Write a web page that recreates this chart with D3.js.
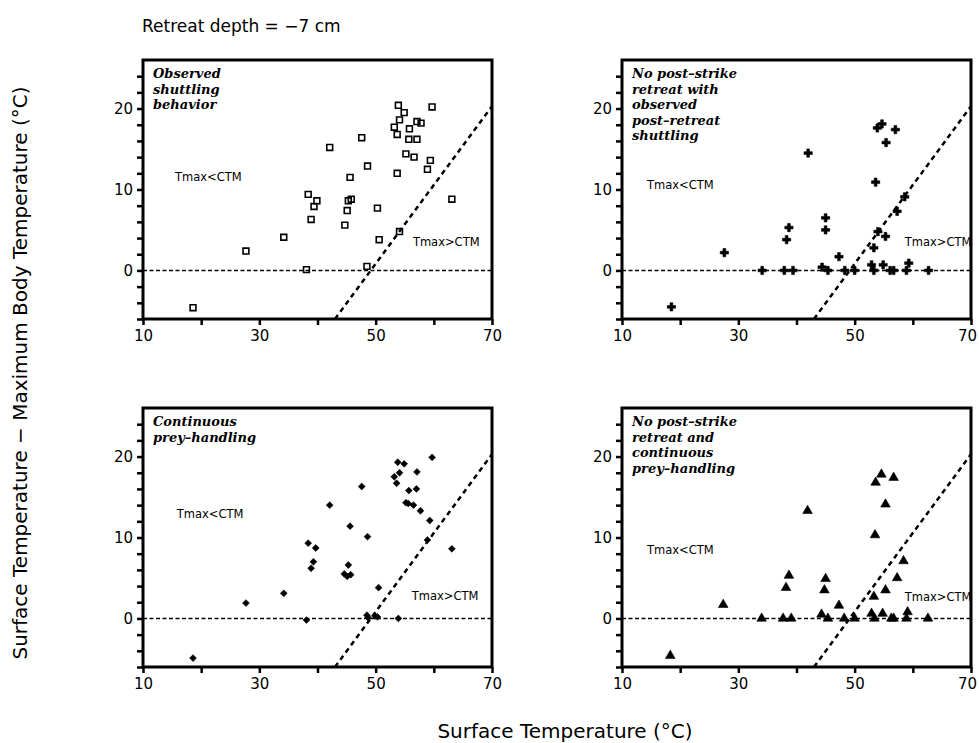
<!DOCTYPE html>
<html>
<head>
<meta charset="utf-8">
<script src="https://cdn.jsdelivr.net/npm/d3@7"></script>
<style>
  body { margin: 0; background: #fff; }
  text { font-family: "DejaVu Sans", sans-serif; fill: #000; }
  .note { font-family: "DejaVu Serif", serif; font-weight: bold; font-style: italic; font-size: 13px; }
  .axis path, .axis line { stroke: #000; }
  .axis text { font-size: 15px; }
</style>
</head>
<body>
<div id="chart"></div>
<script>
// values: [surface temp, surface temp - Tmax]
const observedShuttling = [
  [53.9, 20.4], [59.7, 20.2], [54.9, 19.5], [54.1, 18.6], [57.1, 18.4], [57.8, 18.2],
  [53.2, 17.7], [55.8, 17.5], [53.7, 16.8], [47.6, 16.4], [55.7, 16.2], [57.1, 16.2],
  [42.1, 15.2], [55.2, 14.4], [56.6, 14.0], [59.4, 13.6], [48.6, 12.9], [58.9, 12.5],
  [53.7, 12.0], [45.6, 11.5], [38.4, 9.4], [39.9, 8.6], [45.3, 8.6], [45.8, 8.8],
  [39.4, 7.9], [63.1, 8.8], [50.3, 7.7], [45.1, 7.4], [38.9, 6.3], [44.7, 5.6],
  [34.2, 4.1], [50.6, 3.8], [54.1, 4.8], [27.7, 2.4], [38.1, 0.1], [48.5, 0.5],
  [18.6, -4.6]
];

const noRetreatShuttling = [
  [53.9, 17.6], [54.7, 18.1], [57.0, 17.4], [55.4, 15.8], [42.0, 14.5], [53.6, 10.9],
  [58.6, 9.1], [57.3, 7.3], [45.0, 6.5], [38.7, 5.3], [45.0, 5.0], [38.3, 3.8],
  [54.0, 4.8], [55.3, 4.2], [53.3, 2.8], [47.3, 1.7], [27.6, 2.2], [59.3, 0.9],
  [52.9, 0.7], [54.9, 0.7], [44.4, 0.4], [34.1, 0], [37.9, 0], [39.4, 0],
  [45.4, 0], [48.3, 0], [50.0, 0], [53.3, 0], [56.1, 0], [56.7, 0],
  [58.9, 0], [62.7, 0], [18.5, -4.5]
];

const continuousHandling = [
  [59.7, 19.9], [53.8, 19.3], [54.9, 19.1], [54.1, 18.0], [57.1, 18.1], [53.2, 17.5],
  [53.6, 16.7], [47.6, 16.3], [55.7, 15.8], [57.0, 16.0], [42.1, 14.0], [55.2, 14.3],
  [55.6, 14.2], [56.5, 14.0], [57.7, 13.3], [59.3, 12.1], [45.6, 11.4], [48.6, 10.1],
  [58.9, 9.7], [38.4, 9.3], [39.7, 8.7], [63.1, 8.6], [39.3, 7.0], [38.9, 6.2],
  [45.3, 6.6], [44.6, 5.5], [45.1, 5.2], [45.7, 5.4], [50.5, 3.8], [34.2, 3.1],
  [27.7, 1.9], [38.1, -0.2], [48.5, 0.4], [48.7, 0.1], [49.9, 0.3], [50.3, 0.2],
  [53.9, 0.0], [18.6, -4.9]
];

const noRetreatHandling = [
  [54.6, 17.8], [56.7, 17.4], [53.6, 16.8], [55.3, 14.1], [41.9, 13.3], [53.5, 10.3],
  [58.4, 7.1], [57.3, 5.0], [38.7, 5.3], [45.0, 4.9], [38.2, 3.8], [44.8, 3.5],
  [55.3, 3.5], [53.3, 2.7], [47.3, 1.6], [27.4, 1.7], [59.1, 0.8], [52.9, 0.6],
  [54.8, 0.6], [44.3, 0.5], [34.0, 0], [37.7, 0], [39.1, 0], [45.4, 0],
  [48.2, 0], [50.0, 0], [53.4, 0], [56.3, 0], [56.7, 0], [58.9, 0],
  [62.6, 0], [18.3, -4.6]
];

const ctmLine = [[43.0, -6], [70, 20.3]];
const zeroLine = [[10, 0], [70, 0]];

const xTicks = [10, 20, 30, 40, 50, 60, 70];
const xTickLabels = [10, 30, 50, 70];
const yTicks = [-6, -4, -2, 0, 2, 4, 6, 8, 10, 12, 14, 16, 18, 20, 22, 24];
const yTickLabels = [0, 10, 20];

const notes = [
  ['Observed', 'shuttling', 'behavior'],
  ['No post–strike', 'retreat with', 'observed', 'post–retreat', 'shuttling'],
  ['Continuous', 'prey–handling'],
  ['No post–strike', 'retreat and', 'continuous', 'prey–handling']
];

const W = 979, H = 743;
const pw = 349, ph = 259;

const panels = [
  { data: observedShuttling, sym: d3.symbolSquare, open: true, size: 34, left: 143, top: 60, note: notes[0],
    below: [15.5, 11.5], above: [56.4, 3.5] },
  { data: noRetreatShuttling, sym: d3.symbolCross, open: false, size: 38, left: 622, top: 60, note: notes[1],
    below: [14.3, 10.6], above: [58.6, 3.5] },
  { data: continuousHandling, sym: d3.symbolDiamond2, open: false, size: 30, left: 143, top: 408, note: notes[2],
    below: [15.8, 12.9], above: [56.2, 2.8] },
  { data: noRetreatHandling, sym: d3.symbolTriangle, open: false, size: 40, left: 622, top: 408, note: notes[3],
    below: [14.3, 8.5], above: [58.6, 2.7] }
];

const svg = d3.select('#chart')
  .append('svg')
  .attr('width', W)
  .attr('height', H);

const x = d3.scaleLinear().domain([10, 70]).range([0, pw]);
const y = d3.scaleLinear().domain([-6, 26]).range([ph, 0]);
const line = d3.line().x(d => x(d[0])).y(d => y(d[1]));

panels.forEach((p) => {
  const g = svg.append('g')
    .attr('transform', `translate(${p.left}, ${p.top})`);

  // reference lines
  g.append('path')
    .datum(zeroLine)
    .attr('d', line)
    .attr('fill', 'none')
    .attr('stroke', '#000')
    .attr('stroke-width', 1.6)
    .attr('stroke-dasharray', '4,2.5');

  g.append('path')
    .datum(ctmLine)
    .attr('d', line)
    .attr('fill', 'none')
    .attr('stroke', '#000')
    .attr('stroke-width', 2.5)
    .attr('stroke-dasharray', '5,4');

  // points
  g.selectAll('path.pt')
    .data(p.data)
    .enter()
    .append('path')
    .attr('class', 'pt')
    .attr('transform', d => `translate(${x(d[0])}, ${y(d[1])})`)
    .attr('d', d3.symbol().type(p.sym).size(p.size))
    .attr('fill', p.open ? 'none' : '#000')
    .attr('stroke', '#000')
    .attr('stroke-width', p.open ? 1.6 : 0.6);

  // frame
  g.append('rect')
    .attr('width', pw)
    .attr('height', ph)
    .attr('fill', 'none')
    .attr('stroke', '#000')
    .attr('stroke-width', 3);

  // axes
  const xAxis = d3.axisBottom(x)
    .tickValues(xTicks)
    .tickSize(6)
    .tickPadding(5)
    .tickFormat(d => (xTickLabels.includes(d) ? d : ''));
  const yAxis = d3.axisLeft(y)
    .tickValues(yTicks)
    .tickSize(6)
    .tickPadding(4)
    .tickFormat(d => (yTickLabels.includes(d) ? d : ''));

  const gx = g.append('g')
    .attr('class', 'x axis')
    .attr('transform', `translate(0, ${ph})`)
    .call(xAxis)
    .call(a => a.select('.domain').remove())
    .call(a => a.selectAll('line').attr('stroke-width', 2.5));

  // keep the last label inside the page on the right-hand panels
  if (p.left + pw + 10 > W) {
    gx.selectAll('text').filter(d => d === 70).attr('dx', -4);
  }

  g.append('g')
    .attr('class', 'y axis')
    .call(yAxis)
    .call(a => a.select('.domain').remove())
    .call(a => a.selectAll('line').attr('stroke-width', 2.5));

  // panel note
  g.append('text')
    .attr('class', 'note')
    .attr('x', 10)
    .attr('y', 18)
    .selectAll('tspan')
    .data(p.note)
    .enter()
    .append('tspan')
    .attr('x', 10)
    .attr('dy', (d, i) => (i === 0 ? 0 : 15.5))
    .text(d => d);

  g.append('text')
    .attr('x', x(p.below[0]))
    .attr('y', y(p.below[1]))
    .attr('dy', '0.35em')
    .attr('font-size', 11.5)
    .text('Tmax<CTM');

  g.append('text')
    .attr('x', x(p.above[0]))
    .attr('y', y(p.above[1]))
    .attr('dy', '0.35em')
    .attr('font-size', 11.5)
    .text('Tmax>CTM');
});

// titles
svg.append('text')
  .attr('x', 142)
  .attr('y', 32)
  .attr('font-size', 17)
  .text('Retreat depth = −7 cm');

svg.append('text')
  .attr('x', 565)
  .attr('y', 738)
  .attr('text-anchor', 'middle')
  .attr('font-size', 20)
  .text('Surface Temperature (°C)');

svg.append('text')
  .attr('transform', 'translate(27, 373) rotate(-90)')
  .attr('text-anchor', 'middle')
  .attr('font-size', 20)
  .text('Surface Temperature − Maximum Body Temperature (°C)');
</script>
</body>
</html>
